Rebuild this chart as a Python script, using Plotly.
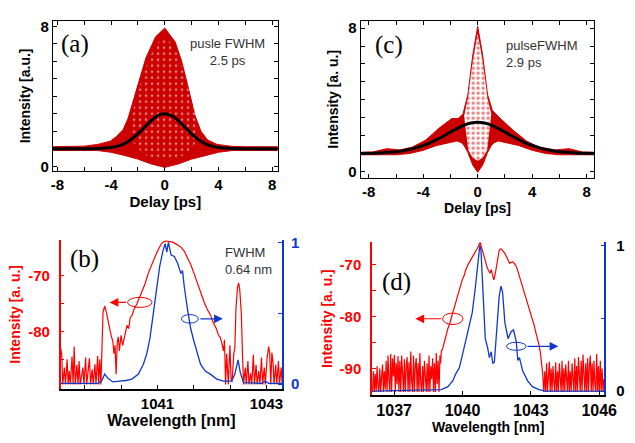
import plotly.graph_objects as go

W, H = 635, 443

# ---------------- panel (a): autocorrelation, 2.5 ps ----------------
a_up_delay = [-8.32, -7, -6, -5, -4.5, -4.07, -3.6, -3.1, -2.75, -2.4, -1.9, -1.4, -0.68, 0,
              0.78, 1.26, 1.75, 2.2, 2.7, 3.2, 3.9, 4.5, 5, 6, 7, 8.41]
a_up_int = [1.12, 1.13, 1.15, 1.25, 1.33, 1.43, 1.7, 2.1, 2.7, 3.6, 4.9, 6.2, 7.4, 7.9,
            7.1, 6.0, 4.5, 3.0, 2.0, 1.5, 1.25, 1.17, 1.14, 1.12, 1.12, 1.12]
a_lo_delay = [-8.32, -7, -6, -5, -4, -3, -2, -1, 0, 1, 2, 3, 4, 5, 6, 7, 8.41]
a_lo_int = [0.9, 0.9, 0.9, 0.9, 0.8, 0.62, 0.41, 0.13, -0.06, 0.13, 0.41, 0.62, 0.8, 0.9, 0.9, 0.9, 0.9]
# speckled inner part of the cloud
a_sp_delay = [-2.3, -1.6, -0.9, -0.3, 0.3, 0.9, 1.6, 2.2, 2.6, 1.6, 0.6, -0.6, -1.6, -2.6]
a_sp_int = [3.4, 5.3, 6.6, 7.3, 7.2, 6.5, 4.9, 3.2, 1.6, 0.7, 0.35, 0.35, 0.7, 1.6]
a_fit_delay = [-8.32, -6, -5, -4, -3.5, -3, -2.5, -2, -1.5, -1, -0.5, 0,
               0.5, 1, 1.5, 2, 2.5, 3, 3.5, 4, 5, 6, 8.41]
a_fit_int = [1.0, 1.0, 1.01, 1.07, 1.15, 1.29, 1.53, 1.85, 2.24, 2.61, 2.9, 3.0,
             2.9, 2.61, 2.24, 1.85, 1.53, 1.29, 1.15, 1.07, 1.01, 1.0, 1.0]

# ---------------- panel (c): autocorrelation, 2.9 ps ----------------
c_up_delay = [-8.6, -7.7, -6.7, -5.7, -4.8, -3.8, -2.87, -1.9, -1.44, -1.08, -0.72, -0.36, 0,
              0.36, 0.72, 1.08, 1.67, 2.6, 3.6, 4.5, 5.7, 6.7, 7.7, 8.57]
c_up_int = [1.07, 1.08, 1.27, 1.2, 1.36, 1.76, 2.4, 2.95, 2.95, 3.2, 4.3, 6.5, 8.1,
            6.5, 4.3, 3.4, 2.95, 2.3, 1.69, 1.36, 1.2, 1.27, 1.08, 1.07]
c_lo_delay = [-8.6, -7, -6, -5, -4, -3, -2, -1.5, -1.2, -1.0, -0.72, -0.36, 0,
              0.36, 0.72, 1.0, 1.2, 1.5, 2, 3, 4, 5, 6, 7, 8.57]
c_lo_int = [0.93, 0.92, 0.93, 1.0, 1.18, 1.45, 1.62, 1.7, 1.6, 1.45, 1.05, 0.35, -0.05,
            0.35, 1.05, 1.45, 1.6, 1.7, 1.62, 1.45, 1.18, 1.0, 0.93, 0.92, 0.93]
# sparse dots inside the central spike
c_sp_delay = [-1.0, -0.72, -0.36, 0, 0.36, 0.72, 1.0, 0.7, 0.36, 0, -0.36, -0.7]
c_sp_int = [3.1, 4.1, 6.2, 7.7, 6.2, 4.1, 3.2, 1.2, 0.75, 0.6, 0.75, 1.2]
c_fit_delay = [-8.6, -8, -7, -6, -5.5, -5, -4.5, -4, -3.5, -3, -2.5, -2, -1.5, -1, -0.5, 0,
               0.5, 1, 1.5, 2, 2.5, 3, 3.5, 4, 4.5, 5, 5.5, 6, 7, 8, 8.57]
c_fit_int = [1.0, 1.01, 1.04, 1.1, 1.15, 1.23, 1.33, 1.45, 1.6, 1.78, 1.98, 2.2, 2.4, 2.58, 2.70, 2.75,
             2.70, 2.58, 2.40, 2.2, 1.98, 1.78, 1.6, 1.45, 1.33, 1.23, 1.15, 1.1, 1.04, 1.01, 1.0]

# ---------------- panel (b): spectrum ----------------
b_red_wl = [1039.22, 1039.24, 1039.26, 1039.29, 1039.31, 1039.34, 1039.36, 1039.38, 1039.40, 1039.43,
            1039.45, 1039.47, 1039.49, 1039.52, 1039.54, 1039.56, 1039.58, 1039.61, 1039.63, 1039.65,
            1039.68, 1039.70, 1039.72, 1039.75, 1039.77, 1039.80, 1039.82, 1039.85, 1039.87, 1039.90,
            1039.92, 1039.94, 1039.96, 1039.98, 1040.00, 1040.03, 1040.06, 1040.09, 1040.12, 1040.15,
            1040.18, 1040.20, 1040.22, 1040.24, 1040.26, 1040.28, 1040.30, 1040.33, 1040.36, 1040.39,
            1040.42, 1040.44, 1040.47, 1040.50, 1040.53, 1040.57, 1040.62, 1040.66, 1040.71, 1040.77,
            1040.83, 1040.89, 1040.95, 1041.01, 1041.07, 1041.12, 1041.16, 1041.22, 1041.28, 1041.35,
            1041.43, 1041.49, 1041.55, 1041.61, 1041.67, 1041.73, 1041.79, 1041.85, 1041.91, 1041.97,
            1042.03, 1042.08, 1042.12, 1042.15, 1042.18, 1042.21, 1042.23, 1042.25, 1042.27, 1042.30,
            1042.33, 1042.35, 1042.37, 1042.40, 1042.42, 1042.44, 1042.47, 1042.49, 1042.51, 1042.54,
            1042.56, 1042.58, 1042.61, 1042.63, 1042.66, 1042.68, 1042.71, 1042.73, 1042.76, 1042.78,
            1042.81, 1042.83, 1042.86, 1042.88, 1042.91, 1042.93, 1042.96, 1042.98, 1043.01, 1043.04,
            1043.06, 1043.08, 1043.10, 1043.12, 1043.14, 1043.17, 1043.19, 1043.22, 1043.24, 1043.27,
            1043.29]
b_red_db = [-83.0, -84.0, -89.5, -86.5, -89.5, -85.0, -89.5, -87.1, -89.5, -84.5,
            -89.5, -82.7, -89.5, -86.0, -89.5, -85.3, -89.5, -87.5, -86.5, -89.5,
            -84.7, -89.5, -88.0, -84.8, -89.5, -86.8, -89.5, -85.9, -89.5, -84.4,
            -89.5, -85.0, -89.5, -80.0, -76.5, -75.5, -76.5, -78.0, -79.5, -80.8,
            -81.8, -84.0, -82.5, -87.7, -82.0, -81.0, -83.5, -80.7, -82.5, -81.0,
            -79.5, -78.9, -79.5, -77.5, -77.2, -76.0, -75.1, -74.2, -73.1, -71.5,
            -69.6, -68.0, -66.7, -65.4, -64.3, -63.9, -63.8, -63.9, -64.0, -64.4,
            -64.9, -65.6, -66.7, -68.0, -69.6, -71.3, -73.1, -74.6, -76.0, -77.0,
            -78.6, -79.5, -80.7, -81.0, -82.0, -83.5, -81.5, -89.5, -84.0, -89.5,
            -82.5, -88.5, -89.0, -84.0, -83.0, -76.0, -72.0, -71.3, -72.5, -77.0,
            -84.0, -89.5, -86.5, -89.5, -85.3, -89.5, -87.5, -89.5, -84.2, -89.5,
            -86.0, -89.5, -87.1, -89.5, -84.7, -89.5, -86.5, -89.5, -85.0, -82.7,
            -84.0, -89.5, -83.8, -85.5, -89.5, -86.0, -89.5, -85.3, -89.5, -86.5,
            -89.5]
b_blue_wl = [1039.22, 1039.91, 1039.97, 1040.03, 1040.09, 1040.18, 1040.30, 1040.42, 1040.53, 1040.59,
             1040.65, 1040.74, 1040.80, 1040.86, 1040.92, 1040.98, 1041.04, 1041.10, 1041.14, 1041.17,
             1041.20, 1041.25, 1041.31, 1041.37, 1041.43, 1041.46, 1041.49, 1041.55, 1041.61, 1041.67,
             1041.73, 1041.79, 1041.88, 1041.97, 1042.09, 1042.21, 1042.36, 1042.42, 1042.48, 1042.52,
             1042.58, 1042.92, 1042.98, 1043.04, 1043.29]
b_blue_norm = [0.005, 0.005, 0.02, 0.07, 0.04, 0.015, 0.02, 0.025, 0.035, 0.05,
               0.07, 0.14, 0.21, 0.32, 0.48, 0.67, 0.83, 0.94, 0.99, 0.93,
               1.0, 0.91, 0.90, 0.85, 0.78, 0.80, 0.69, 0.53, 0.39, 0.30,
               0.21, 0.14, 0.09, 0.07, 0.035, 0.02, 0.02, 0.07, 0.17, 0.08,
               0.01, 0.005, 0.02, 0.005, 0.005]

# ---------------- panel (d): spectrum ----------------
d_red_wl = [1036.05, 1036.09, 1036.13, 1036.17, 1036.21, 1036.25, 1036.29, 1036.33, 1036.37, 1036.41,
            1036.45, 1036.49, 1036.53, 1036.57, 1036.61, 1036.65, 1036.69, 1036.73, 1036.77, 1036.81,
            1036.85, 1036.89, 1036.93, 1036.97, 1037.01, 1037.05, 1037.09, 1037.13, 1037.17, 1037.21,
            1037.25, 1037.29, 1037.33, 1037.37, 1037.41, 1037.45, 1037.49, 1037.53, 1037.57, 1037.61,
            1037.65, 1037.69, 1037.73, 1037.77, 1037.81, 1037.85, 1037.89, 1037.93, 1037.97, 1038.01,
            1038.05, 1038.09, 1038.13, 1038.17, 1038.21, 1038.25, 1038.29, 1038.33, 1038.37, 1038.41,
            1038.45, 1038.49, 1038.53, 1038.57, 1038.61, 1038.65, 1038.69, 1038.73, 1038.77, 1038.81,
            1038.85, 1038.89, 1038.93, 1038.97, 1039.01, 1039.04, 1039.07, 1039.14, 1039.21, 1039.28,
            1039.36, 1039.43, 1039.50, 1039.57, 1039.64, 1039.71, 1039.79, 1039.86, 1039.93, 1040.00,
            1040.07, 1040.14, 1040.25, 1040.36, 1040.47, 1040.57, 1040.64, 1040.71, 1040.78, 1040.84,
            1040.90, 1040.98, 1041.07, 1041.14, 1041.21, 1041.26, 1041.29, 1041.34, 1041.38, 1041.44,
            1041.50, 1041.55, 1041.61, 1041.67, 1041.71, 1041.79, 1041.86, 1041.96, 1042.07, 1042.14,
            1042.21, 1042.29, 1042.36, 1042.43, 1042.50, 1042.57, 1042.64, 1042.71, 1042.79, 1042.86,
            1042.93, 1043.00, 1043.07, 1043.14, 1043.21, 1043.28, 1043.36, 1043.42, 1043.47, 1043.52,
            1043.57, 1043.61, 1043.65, 1043.69, 1043.73, 1043.77, 1043.81, 1043.85, 1043.89, 1043.93,
            1043.97, 1044.01, 1044.05, 1044.09, 1044.13, 1044.17, 1044.21, 1044.25, 1044.29, 1044.33,
            1044.37, 1044.41, 1044.45, 1044.49, 1044.53, 1044.57, 1044.61, 1044.65, 1044.69, 1044.73,
            1044.77, 1044.81, 1044.85, 1044.89, 1044.93, 1044.97, 1045.01, 1045.05, 1045.09, 1045.13,
            1045.17, 1045.21, 1045.25, 1045.29, 1045.33, 1045.37, 1045.41, 1045.45, 1045.49, 1045.53,
            1045.57, 1045.61, 1045.65, 1045.69, 1045.73, 1045.77, 1045.81, 1045.85, 1045.89, 1045.93,
            1045.97, 1046.01, 1046.05, 1046.09, 1046.13, 1046.17, 1046.21]
d_red_db = [-94.5, -90.5, -94.5, -91.0, -94.5, -89.5, -93.5, -94.5, -90.0, -94.5,
            -91.5, -89.2, -94.5, -90.5, -94.0, -88.5, -94.5, -87.5, -92.0, -94.5,
            -87.2, -94.5, -88.0, -91.5, -87.4, -94.5, -89.0, -93.0, -87.6, -94.5,
            -88.5, -94.5, -87.5, -91.0, -94.5, -88.2, -94.5, -89.5, -87.8, -94.5,
            -88.8, -94.5, -86.7, -92.5, -94.5, -87.5, -94.5, -89.5, -88.0, -94.5,
            -89.0, -94.5, -87.0, -93.0, -94.5, -89.5, -94.5, -88.5, -91.5, -94.5,
            -89.0, -94.5, -87.5, -94.5, -89.5, -92.0, -88.0, -94.5, -89.0, -94.5,
            -87.0, -93.0, -88.5, -94.5, -87.5, -89.0, -86.7, -86.0, -84.8, -83.5,
            -82.3, -81.5, -80.4, -79.2, -78.3, -77.3, -76.1, -75.0, -73.6, -72.8,
            -72.2, -71.1, -70.0, -69.2, -68.5, -67.6, -67.0, -66.4, -65.8, -66.8,
            -67.9, -69.0, -70.4, -71.2, -71.7, -71.0, -71.5, -72.5, -73.0, -71.8,
            -70.4, -68.8, -67.3, -67.0, -67.1, -67.5, -67.9, -68.8, -69.8, -69.6,
            -69.5, -69.9, -70.4, -71.3, -72.3, -73.3, -74.2, -75.1, -76.1, -77.2,
            -78.3, -79.3, -80.4, -81.6, -82.9, -84.0, -85.5, -87.0, -88.6, -91.0,
            -94.5, -90.5, -94.5, -89.0, -94.5, -91.0, -88.7, -94.5, -90.0, -94.5,
            -89.5, -92.5, -94.5, -88.8, -94.5, -90.5, -94.5, -89.0, -91.5, -94.5,
            -88.5, -94.5, -90.0, -94.5, -89.2, -93.0, -94.5, -88.5, -94.5, -90.5,
            -94.5, -89.0, -91.5, -94.5, -88.0, -94.5, -89.5, -94.5, -87.8, -92.0,
            -94.5, -88.5, -94.5, -87.3, -91.0, -94.5, -89.0, -94.5, -88.0, -94.5,
            -89.5, -87.5, -94.5, -89.0, -94.5, -88.5, -93.0, -94.5, -87.2, -94.5,
            -89.5, -94.5, -88.5, -94.5, -90.0, -94.5, -92.0]
d_blue_wl = [1036.05, 1039.07, 1039.36, 1039.57, 1039.71, 1039.86, 1040.00, 1040.14, 1040.28, 1040.43,
             1040.57, 1040.67, 1040.76, 1040.81, 1040.90, 1041.00, 1041.10, 1041.18, 1041.26, 1041.33,
             1041.40, 1041.50, 1041.61, 1041.69, 1041.76, 1041.86, 1042.00, 1042.14, 1042.24, 1042.36,
             1042.43, 1042.50, 1042.64, 1042.86, 1043.07, 1043.36, 1043.64, 1046.21]
d_blue_norm = [0.0, 0.01, 0.03, 0.07, 0.12, 0.16, 0.25, 0.34, 0.43, 0.54,
               0.72, 0.88, 1.0, 0.97, 0.70, 0.36, 0.30, 0.23, 0.27, 0.19,
               0.20, 0.41, 0.65, 0.72, 0.68, 0.47, 0.36, 0.41, 0.42, 0.34,
               0.21, 0.23, 0.14, 0.07, 0.03, 0.01, 0.0, 0.0]

RED_DOTS = "rgb(204,0,0)"
RED = "#ff0000"
BLUE = "#1038c8"
FONT = "Liberation Sans, Arial, sans-serif"
SERIF = "Liberation Serif, Times New Roman, serif"


def px(x):
    return x / W


def py(y):
    return 1 - y / H


def cloud(x, y, xa, ya, pattern=None):
    # a region of the measured dot cloud drawn as a filled outline
    return go.Scatter(x=x, y=y, fill="toself", fillcolor=RED_DOTS, fillpattern=pattern,
                      line=dict(color=RED_DOTS, width=1 if pattern is None else 0),
                      mode="lines", xaxis=xa, yaxis=ya, showlegend=False, hoverinfo="skip")


speckle = dict(shape=".", bgcolor=RED_DOTS, fgcolor="white", size=6, solidity=0.15)
sparse = dict(shape=".", bgcolor="white", fgcolor=RED_DOTS, size=5, solidity=0.35)

fig = go.Figure()

fig.add_trace(cloud(a_up_delay + a_lo_delay[::-1], a_up_int + a_lo_int[::-1], "x", "y"))
fig.add_trace(cloud(a_sp_delay, a_sp_int, "x", "y", speckle))
fig.add_trace(go.Scatter(x=a_fit_delay, y=a_fit_int, mode="lines", line=dict(color="black", width=3, shape="spline"),
                         xaxis="x", yaxis="y", showlegend=False))
fig.add_trace(cloud(c_up_delay + c_lo_delay[::-1], c_up_int + c_lo_int[::-1], "x2", "y2"))
fig.add_trace(cloud(c_sp_delay, c_sp_int, "x2", "y2", sparse))
fig.add_trace(go.Scatter(x=c_fit_delay, y=c_fit_int, mode="lines", line=dict(color="black", width=3, shape="spline"),
                         xaxis="x2", yaxis="y2", showlegend=False))

# spectra
fig.add_trace(go.Scatter(x=b_red_wl, y=b_red_db, mode="lines", line=dict(color=RED, width=1.2),
                         xaxis="x3", yaxis="y3", showlegend=False))
fig.add_trace(go.Scatter(x=b_blue_wl, y=b_blue_norm, mode="lines", line=dict(color=BLUE, width=1.3),
                         xaxis="x3", yaxis="y5", showlegend=False))
fig.add_trace(go.Scatter(x=d_red_wl, y=d_red_db, mode="lines", line=dict(color=RED, width=1.2),
                         xaxis="x4", yaxis="y4", showlegend=False))
fig.add_trace(go.Scatter(x=d_blue_wl, y=d_blue_norm, mode="lines", line=dict(color=BLUE, width=1.3),
                         xaxis="x4", yaxis="y6", showlegend=False))

tick_font = dict(family=FONT, size=15, color="black", weight="bold")
title_font = dict(family=FONT, size=14, color="black", weight="bold")

delay_ticks = [-8, -6, -4, -2, 0, 2, 4, 6, 8]
delay_text = ["-8", "", "-4", "", "0", "", "4", "", "8"]
int_ticks = [0, 1, 2, 3, 4, 5, 6, 7, 8]
int_text = ["0", "", "", "", "", "", "", "", "8"]

box = dict(showline=True, linecolor="black", linewidth=1.2, mirror="ticks", ticks="inside",
           ticklen=4, tickcolor="black", showgrid=False, zeroline=False)

fig.update_layout(
    width=W, height=H, margin=dict(l=0, r=0, t=0, b=0),
    paper_bgcolor="white", plot_bgcolor="white",
    xaxis=dict(**box, domain=[px(52.3), px(282.3)], range=[-8.32, 8.41], anchor="y",
               tickvals=delay_ticks, ticktext=delay_text, tickfont=tick_font,
               title=dict(text="Delay [ps]", font=dict(family=FONT, size=15, color="black", weight="bold"), standoff=4)),
    yaxis=dict(**box, domain=[py(169), py(15)], range=[-0.28, 8.32], anchor="x",
               tickvals=int_ticks, ticktext=int_text, tickfont=tick_font,
               title=dict(text="Intensity [a.u.]", font=title_font, standoff=6)),
    xaxis2=dict(**box, domain=[px(367.3), px(606.7)], range=[-8.6, 8.57], anchor="y2",
                tickvals=delay_ticks, ticktext=delay_text, tickfont=tick_font,
                title=dict(text="Delay [ps]", font=title_font, standoff=4)),
    yaxis2=dict(**box, domain=[py(176), py(15)], range=[-0.37, 8.42], anchor="x2",
                tickvals=int_ticks, ticktext=int_text, tickfont=tick_font,
                title=dict(text="Intensity [a. u.]", font=title_font, standoff=6)),
    xaxis3=dict(showline=True, linecolor="black", linewidth=1.5, ticks="inside", ticklen=4,
                tickcolor="black", showgrid=False, zeroline=False,
                domain=[px(60), px(287)], range=[1039.22, 1043.29], anchor="y3",
                tickvals=[1039.667, 1040.333, 1041, 1041.667, 1042.333, 1043],
                ticktext=["", "", "1041", "", "", "1043"], tickfont=tick_font,
                title=dict(text="Wavelength [nm]", font=dict(family=FONT, size=16, color="black", weight="bold"),
                           standoff=2)),
    yaxis3=dict(showline=True, linecolor=RED, linewidth=1.5, ticks="inside", ticklen=4, tickcolor=RED,
                showgrid=False, zeroline=False, domain=[py(391.7), py(239.3)], range=[-90.3, -63.6],
                anchor="x3", tickvals=[-85, -80, -75, -70], ticktext=["", "-80", "", "-70"],
                tickfont=dict(family=FONT, size=15, color=RED, weight="bold"), ticklabelstandoff=6,
                title=dict(text="Intensity [a. u.]", font=dict(family=FONT, size=14, color=RED, weight="bold"),
                           standoff=4)),
    yaxis5=dict(showline=True, linecolor=BLUE, linewidth=1.5, ticks="inside", ticklen=4, tickcolor=BLUE,
                showgrid=False, zeroline=False, overlaying="y3", side="right", anchor="x3",
                range=[-0.034, 1.017], tickvals=[0, 0.5, 1], ticktext=["0", "", "1"],
                tickfont=dict(family=FONT, size=15, color=BLUE, weight="bold"), ticklabelstandoff=4),
    xaxis4=dict(showline=True, linecolor="black", linewidth=1.5, ticks="inside", ticklen=4,
                tickcolor="black", showgrid=False, zeroline=False,
                domain=[px(379), px(617)], range=[1036.03, 1046.23], anchor="y4",
                tickvals=[1037, 1040, 1043, 1046], tickfont=dict(family=FONT, size=16, color="black", weight="bold"),
                title=dict(text="Wavelength [nm]", font=dict(family=FONT, size=14, color="black", weight="bold"),
                           standoff=2)),
    yaxis4=dict(showline=True, linecolor=RED, linewidth=1.5, ticks="inside", ticklen=4, tickcolor=RED,
                showgrid=False, zeroline=False, domain=[py(398), py(241.7)], range=[-95.07, -65.76],
                anchor="x4", tickvals=[-90, -85, -80, -75, -70], ticktext=["-90", "", "-80", "", "-70"],
                tickfont=dict(family=FONT, size=15, color=RED, weight="bold"), ticklabelstandoff=6,
                title=dict(text="Intensity [a. u.]", font=dict(family=FONT, size=14, color=RED, weight="bold"),
                           standoff=4)),
    yaxis6=dict(showline=True, linecolor=BLUE, linewidth=1.5, ticks="inside", ticklen=4, tickcolor=BLUE,
                showgrid=False, zeroline=False, overlaying="y4", side="right", anchor="x4",
                range=[-0.027, 1.022], tickvals=[0, 0.5, 1], ticktext=["0", "", "1"],
                tickfont=dict(family=FONT, size=15, color="black", weight="bold"), ticklabelstandoff=7),
)

# ellipses around the curves
fig.add_shape(type="circle", xref="x3", yref="y3", x0=1040.45, x1=1040.90, y0=-75.7, y1=-73.9,
              line=dict(color=RED, width=1))
fig.add_shape(type="circle", xref="x3", yref="y5", x0=1041.44, x1=1041.75, y0=0.43, y1=0.49,
              line=dict(color=BLUE, width=1))
fig.add_shape(type="circle", xref="x4", yref="y4", x0=1039.13, x1=1040.02, y0=-81.55, y1=-79.35,
              line=dict(color=RED, width=1))
fig.add_shape(type="circle", xref="x4", yref="y6", x0=1041.93, x1=1042.79, y0=0.28, y1=0.335,
              line=dict(color=BLUE, width=1))

arrows = [
    ("x3", "y3", 1040.12, -74.8, 1040.45, -74.8, RED),
    ("x3", "y5", 1042.20, 0.46, 1041.76, 0.46, BLUE),
    ("x4", "y4", 1037.93, -80.45, 1039.14, -80.45, RED),
    ("x4", "y6", 1044.21, 0.307, 1042.79, 0.307, BLUE),
]
for xr, yr, x, y, ax, ay, col in arrows:
    fig.add_annotation(xref=xr, yref=yr, axref=xr, ayref=yr, x=x, y=y, ax=ax, ay=ay, text="",
                       showarrow=True, arrowhead=2, arrowsize=1.6, arrowwidth=1.1, arrowcolor=col)

labels = [
    ("(a)", 75, 39),
    ("(c)", 396, 40),
    ("(b)", 85, 259),
    ("(d)", 404, 282),
]
for text, x, y in labels:
    fig.add_annotation(xref="paper", yref="paper", x=px(x), y=py(y), text=text, showarrow=False,
                       xanchor="center", yanchor="middle", font=dict(family=SERIF, size=25, color="black"))

notes = [
    ("pusle FWHM<br>2.5 ps", 231, 47, "center"),
    ("pulseFWHM<br>2.9 ps", 514, 49, "left"),
    ("FWHM<br>0.64 nm", 226, 261, "left"),
]
for text, x, y, anchor in notes:
    fig.add_annotation(xref="paper", yref="paper", x=px(x), y=py(y), text=text, showarrow=False,
                       xanchor=anchor, yanchor="middle", align=anchor,
                       font=dict(family=FONT, size=13, color="#333333"))

# page body has a default 8px margin; remove it so the figure sits at the window origin
fig.write_html("out.html", config={"displayModeBar": False},
               post_script="document.body.style.margin='0';document.body.style.overflow='hidden';")
